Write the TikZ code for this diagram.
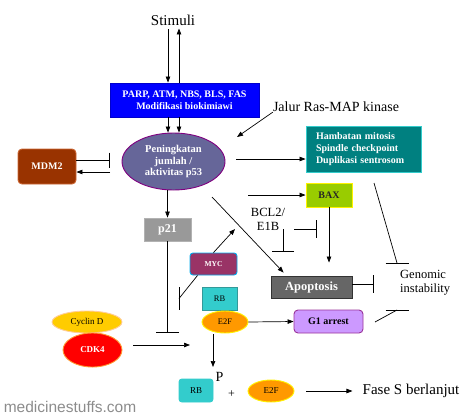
\documentclass[tikz,border=0pt]{standalone}
\usepackage{fontspec}
\setmainfont{Liberation Serif}
\newfontfamily\wmfont{Liberation Sans}
\usetikzlibrary{shapes.geometric,arrows.meta}
\definecolor{cblue}{HTML}{0000FF}
\definecolor{cp53}{HTML}{666699}
\definecolor{cp53b}{HTML}{800080}
\definecolor{cmdm}{HTML}{993300}
\definecolor{cmdmb}{HTML}{CC6633}
\definecolor{cteal}{HTML}{008080}
\definecolor{ctealb}{HTML}{33CCCC}
\definecolor{cbax}{HTML}{99CC00}
\definecolor{capo}{HTML}{666666}
\definecolor{capob}{HTML}{333333}
\definecolor{cg1}{HTML}{CC99FF}
\definecolor{cg1b}{HTML}{993399}
\definecolor{cp21}{HTML}{999999}
\definecolor{cp21b}{HTML}{B2B2B2}
\definecolor{cmyc}{HTML}{993366}
\definecolor{crb}{HTML}{33CCCC}
\definecolor{crbb}{HTML}{339999}
\definecolor{ce2f}{HTML}{FF9900}
\definecolor{ccyc}{HTML}{FFCC00}
\definecolor{ccycb}{HTML}{FFCC99}
\definecolor{ccdkb}{HTML}{FF9933}
\definecolor{cwm}{HTML}{8C8C8C}
\tikzset{
  boxnode/.style={draw, line width=0.9pt, inner sep=0pt, align=center},
  ellnode/.style={ellipse, draw, line width=0.9pt, inner sep=0pt, align=center},
  arr/.style={line width=0.7pt, -{Triangle[length=6pt,width=4.5pt]}},
  plain/.style={line width=0.7pt},
  inh/.style={line width=0.7pt, -{Bar[width=#1,line width=0.7pt]}},
  inh/.default=18pt,
  lbl/.style={inner sep=0pt, align=center}
}
\begin{document}
\begin{tikzpicture}[x=1pt,y=-1pt]
\useasboundingbox (0,0) rectangle (473,418);
% nodes
\node[lbl, font=\fontsize{15}{18}\selectfont] (stim) at (173,20) {Stimuli};
\node[boxnode, fill=cblue, draw=cblue!80!black, text=white, minimum width=149pt, minimum height=34pt,
  font=\fontsize{10}{12}\selectfont\bfseries] (parp) at (184.5,100) {PARP, ATM, NBS, BLS, FAS\\Modifikasi biokimiawi};
\node[ellnode, fill=cp53, draw=cp53b, text=white, minimum width=103pt, minimum height=57pt,
  font=\fontsize{10.5}{11.7}\selectfont\bfseries] (p53) at (173.5,161.5) {Peningkatan\\jumlah /\\aktivitas p53};
\node[boxnode, rounded corners=4pt, fill=cmdm, draw=cmdmb, text=white, minimum width=58pt, minimum height=35pt,
  font=\fontsize{10}{12}\selectfont\bfseries] (mdm2) at (47,166.5) {MDM2};
\node[lbl, font=\fontsize{14}{16}\selectfont] (jalur) at (336,107) {Jalur Ras-MAP kinase};
\node[boxnode, fill=cteal, draw=ctealb, text=white, minimum width=115pt, minimum height=46pt,
  text width=95pt, align=left, font=\fontsize{10}{12}\selectfont\bfseries] (teal) at (363.5,149)
  {Hambatan mitosis\\Spindle checkpoint\\Duplikasi sentrosom};
\node[boxnode, fill=cbax, draw=yellow, text=black!85, minimum width=46pt, minimum height=24pt,
  font=\fontsize{10}{12}\selectfont\bfseries] (bax) at (329,195) {BAX};
\node[lbl, font=\fontsize{12.5}{14}\selectfont] (bcl) at (268,219) {BCL2/\\E1B};
\node[boxnode, fill=capo, draw=capob, text=white, minimum width=81pt, minimum height=22pt,
  font=\fontsize{12.5}{14}\selectfont\bfseries] (apop) at (311.5,287) {Apoptosis};
\node[lbl, anchor=west, align=left, font=\fontsize{12.5}{14}\selectfont] (gen) at (400,283) {Genomic\\instability};
\node[boxnode, rounded corners=4pt, fill=cg1, draw=cg1b, text=black, minimum width=69pt, minimum height=23pt,
  font=\fontsize{10}{12}\selectfont\bfseries] (g1) at (328.5,321.5) {G1 arrest};
\node[boxnode, fill=cp21, draw=cp21b, text=white, minimum width=47pt, minimum height=23pt,
  font=\fontsize{12}{14}\selectfont\bfseries] (p21) at (167.5,229.5) {p21};
\node[boxnode, rounded corners=3pt, fill=cmyc, draw=cyan, text=white, minimum width=47pt, minimum height=22pt,
  font=\fontsize{7.5}{9}\selectfont\bfseries] (myc) at (213.5,264) {MYC};
\node[boxnode, fill=crb, draw=crbb, text=black, minimum width=35pt, minimum height=23pt,
  font=\fontsize{8.5}{10}\selectfont] (rb) at (219.5,298.5) {RB};
\node[ellnode, fill=ce2f, draw=yellow, text=black, minimum width=46pt, minimum height=22pt,
  font=\fontsize{8.5}{10}\selectfont] (e2f) at (225,322) {E2F};
\node[ellnode, fill=ccyc, draw=ccycb, text=black, minimum width=70pt, minimum height=22pt,
  font=\fontsize{9}{10}\selectfont] (cyc) at (87,322) {Cyclin D};
\node[ellnode, fill=red, draw=ccdkb, text=white, minimum width=59pt, minimum height=34pt,
  font=\fontsize{9}{10}\selectfont\bfseries] (cdk4) at (92.5,350) {CDK4};
\node[lbl, font=\fontsize{14}{16}\selectfont] (plbl) at (219.5,377) {P};
\node[boxnode, rounded corners=3pt, fill=crb, draw=ctealb, text=black, minimum width=34pt, minimum height=23pt,
  font=\fontsize{9}{10}\selectfont] (rbb) at (196,390.5) {RB};
\node[lbl, font=\fontsize{12}{14}\selectfont] (plus) at (231.5,394) {+};
\node[ellnode, fill=ce2f, draw=yellow, text=black, minimum width=46pt, minimum height=22pt,
  font=\fontsize{9}{10}\selectfont] (e2fb) at (271,391) {E2F};
\node[lbl, font=\fontsize{15}{18}\selectfont] (fase) at (411,391) {Fase S berlanjut};
\node[lbl, text=cwm, font=\wmfont\fontsize{15.5}{18}\selectfont] (wm) at (70,407) {medicinestuffs.com};
% coordinates
\coordinate (x168) at (168,0);
\coordinate (x179) at (179,0);
\coordinate (mdmT) at (110,160);
\coordinate (mdmA) at (110,172);
\coordinate (rasE) at (237,137);
\coordinate (tealS) at (236,159);
\coordinate (baxS) at (248,195);
\coordinate (diagS) at (212,197);
\coordinate (b1s) at (294,229);
\coordinate (b1e) at (317,229);
\coordinate (b2s) at (283,229);
\coordinate (b2e) at (283,252);
\coordinate (apT) at (374,284);
\coordinate (tS) at (374,183);
\coordinate (tE) at (397,263);
\coordinate (gS) at (375,322);
\coordinate (gE) at (397,310);
\coordinate (mycE) at (235,229);
\coordinate (mycB) at (179,298.5);
\coordinate (p21B) at (167.5,333);
\coordinate (cdkS) at (133,345);
\coordinate (cdkE) at (190,345);
\coordinate (e2fD) at (213,367);
\coordinate (e2fbS) at (306,391);
% connectors
\draw[arr] (stim.south -| x168) ++(0,4) -- (parp.north -| x168);
\draw[arr] (parp.north -| x179) -- ([yshift=-3pt]stim.south -| x179);
\draw[arr] (parp.south -| x168) -- (p53.north -| x168);
\draw[arr] (parp.south -| x179) -- (p53.north -| x179);
\draw[inh=15pt] ([yshift=6.5pt]mdm2.east) -- (mdmT);
\draw[arr] (mdmA) -- ([yshift=-5.5pt]mdm2.east);
\draw[arr] (jalur.south west) -- (rasE);
\draw[arr] (tealS) -- (teal.west |- tealS);
\draw[arr] (baxS) -- (bax.west);
\draw[inh=18pt] (b1s) -- (b1e);
\draw[inh=22pt] (b2s) -- (b2e);
\draw[arr] (bax.south) -- ([yshift=13pt]apop.north -| bax.south);
\draw[arr] (diagS) -- ([shift={(13,-3)}]apop.north west);
\draw[inh=18pt] ([yshift=3pt]apop.east) -- (apT);
\draw[plain] (tS) -- (tE);
\draw[plain] ([xshift=-11.5pt]tE) -- ([xshift=11.5pt]tE);
\draw[plain] (gS) -- (gE);
\draw[plain] ([xshift=-11.5pt]gE) -- ([xshift=11.5pt]gE);
\draw[arr] (e2f.east) -- (g1.west);
\draw[arr] (p53.south -| p21.north) -- (p21.north);
\draw[inh=23pt] (p21.south) -- (p21B);
\draw[arr] (myc.north) -- (mycE);
\draw[plain] ([xshift=-16pt]myc.south) -- (mycB);
\draw[plain] ([yshift=11.5pt]mycB) -- ([yshift=-11.5pt]mycB);
\draw[arr] (cdkS) -- (cdkE);
\draw[arr] ([xshift=-12pt,yshift=-1pt]e2f.south) -- (e2fD);
\draw[arr] (e2fbS) -- ([xshift=-10pt]fase.west);
\end{tikzpicture}
\end{document}
